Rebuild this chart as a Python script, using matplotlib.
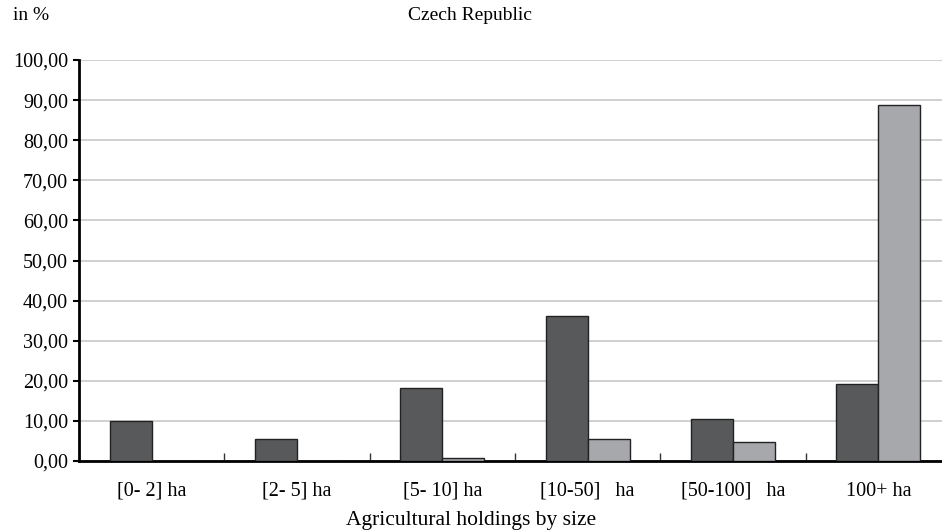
import numpy as np
import matplotlib.pyplot as plt

categories = ['[0- 2] ha', '[2- 5] ha', '[5- 10] ha', '[10-50]   ha', '[50-100]   ha', '100+ ha']
holdings = [9.9, 5.5, 18.3, 36.2, 10.5, 19.2]
area = [0.0, 0.0, 0.7, 5.5, 4.8, 88.7]
yticks = np.arange(0, 101, 10)

plt.rcParams['font.family'] = ['Liberation Serif', 'DejaVu Serif']

fig = plt.figure(figsize=(9.42, 5.31), dpi=100)
ax = fig.add_axes([79 / 942, 1 - 461 / 531, 872 / 942, 401 / 531])

x = np.arange(len(categories))
w = 0.29
ax.bar(x - w / 2, holdings, width=w, color='#58595b', edgecolor='#222222', linewidth=1, zorder=3)
ax.bar(x + w / 2, area, width=w, color='#a7a8ac', edgecolor='#222222', linewidth=1, zorder=3)

ax.set_xlim(-0.5, len(categories) - 0.5)
ax.set_ylim(0, 100)
ax.set_yticks(yticks)
ax.set_yticklabels([f'{v:.2f}'.replace('.', ',') for v in yticks], fontsize=14.5)
ax.yaxis.grid(True, color='#c8c8c8', linewidth=1.2, zorder=0)
ax.tick_params(axis='y', length=4, width=1.5, direction='out', pad=4)

# separators between groups
ax.set_xticks(x[:-1] + 0.5)
ax.set_xticklabels([])
ax.tick_params(axis='x', length=6, width=1, direction='in', color='#333333')
for xi, lab in zip(x, categories):
    ax.text(xi, -7.5, lab, ha='center', va='center', fontsize=14.5)

for s in ['top', 'right']:
    ax.spines[s].set_visible(False)
ax.spines['left'].set_linewidth(2)
ax.spines['bottom'].set_linewidth(2)

fig.text(470 / 942, 1 - 15 / 531, 'Czech Republic', ha='center', va='center', fontsize=14)
fig.text(13 / 942, 1 - 15 / 531, 'in %', ha='left', va='center', fontsize=14)
fig.text(471 / 942, 1 - 521 / 531, 'Agricultural holdings by size', ha='center', va='center', fontsize=15.5)

fig.savefig('out.png', dpi=100)
